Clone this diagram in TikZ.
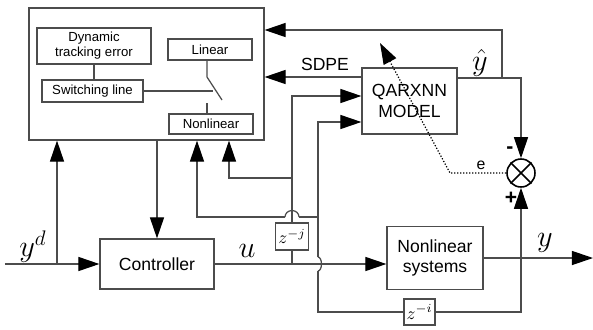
\documentclass[tikz,border=0pt]{standalone}
\usepackage{fontspec}
\setmainfont{Liberation Sans}
\usepackage{amsmath}
\usetikzlibrary{arrows.meta}

\tikzset{
  blk/.style={draw=black!70, line width=0.7pt, align=center, inner sep=1pt,
    font=\fontsize{10}{11.5}\selectfont},
  sblk/.style={blk, font=\fontsize{7.5}{8.5}\selectfont},
  sig/.style={draw=black!70, line width=0.7pt},
  arr/.style={sig, -{Triangle[length=12pt,width=8pt,color=black]}},
  lbl/.style={font=\LARGE},
}

\begin{document}
\begin{tikzpicture}[x=0.02cm,y=-0.02cm]
\useasboundingbox (0,0) rectangle (593,329);

% --- Bloque de conmutacion ---
\node[blk, minimum width=4.70cm, minimum height=2.64cm] (smc) at (146.5,74) {};
\node[sblk, minimum width=2.28cm, minimum height=0.72cm] (dte) at (94,46) {Dynamic\\tracking error};
\node[sblk, minimum width=2.02cm, minimum height=0.44cm] (swl) at (92.5,91) {Switching line};
\node[sblk, minimum width=1.68cm, minimum height=0.42cm] (lin) at (210,49.5) {Linear};
\node[sblk, minimum width=1.68cm, minimum height=0.40cm] (nlin) at (211,124) {Nonlinear};

% interruptor
\coordinate (sw1) at (207,77);
\coordinate (sw2) at (222,100);
\coordinate (sw3) at (207,103);
\draw[sig] (dte.south) -- (dte.south |- swl.north);
\draw[sig] (swl.east) -- (213,91);
\draw[sig] (lin.south -| sw1) -- (sw1) -- (sw2);
\draw[sig] (nlin.north -| sw3) -- (sw3);

% --- Modelo QARXNN y sumador ---
\node[blk, minimum width=1.90cm, minimum height=1.32cm] (qarx) at (409.5,101) {QARXNN\\MODEL};
\node[draw=black, line width=0.9pt, circle, minimum size=0.56cm, inner sep=0pt] (sum) at (521,173) {};
\draw[black, line width=0.9pt] (sum.north west) -- (sum.south east) (sum.north east) -- (sum.south west);

% --- Controlador y planta ---
\node[blk, minimum width=2.28cm, minimum height=1.0cm] (ctrl) at (157,264) {Controller};
\node[blk, minimum width=1.92cm, minimum height=1.26cm] (nls) at (435,258) {Nonlinear\\systems};
\node[blk, minimum width=0.66cm, minimum height=0.54cm, inner sep=0pt] (zj) at (292,236.5) {$z^{-j}$};
\node[blk, minimum width=0.62cm, minimum height=0.52cm, inner sep=0pt] (zi) at (419.5,312) {$z^{-i}$};

% referencia y^d
\coordinate (yin) at (5,264);
\coordinate (jyd) at (57,264);
\draw[arr] (yin) -- (ctrl.west);
\draw[arr] (jyd) -- (jyd |- smc.south);
\node[lbl] (yd) at (33,247) {$y^d$};
\draw[arr] (ctrl.north |- smc.south) -- (ctrl.north);

% entrada u y retardo z^{-j}
\coordinate (ju) at (292,264);
\coordinate (ja) at (292,96);
\coordinate (jb) at (292,178);
\draw[arr] (ctrl.east) -- (ctrl.east -| nls.west);
\node[lbl] (u) at (247,251) {$u$};
\draw[sig] (ju) -- (zj.south);
\draw[arr] (zj.north) -- (ja) -- (ja -| qarx.west);
\draw[arr] (jb) -| ([xshift=1.65cm]smc.south);

% salida y y retardo z^{-i}
\coordinate (yout) at (593,258);
\coordinate (jy) at (521,258);
\coordinate (jc) at (318,312);
\coordinate (jd) at (318,122);
\coordinate (je) at (318,217);
\coordinate (hv1) at (318,271);
\coordinate (hv2) at (318,257);
\coordinate (hh1) at (299,217);
\coordinate (hh2) at (285,217);
\draw[arr] (nls.east) -- (yout);
\node[lbl] (y) at (545,243) {$y$};
\draw[arr] (jy) -- (sum.south);
\draw[sig] (jy) |- (zi.east);
\draw[sig] (zi.west) -- (jc) -- (hv1);
\draw[sig] (hv1) arc[start angle=-90,end angle=90,x radius=0.07cm,y radius=0.14cm];
\draw[arr] (hv2) -- (jd) -- (jd -| qarx.west);
\draw[sig] (je) -- (hh1);
\draw[sig] (hh1) arc[start angle=0,end angle=180,x radius=0.14cm,y radius=0.13cm];
\draw[arr] (hh2) -| ([xshift=1.01cm]smc.south);

% salida del modelo y SDPE
\coordinate (jh) at (502,78);
\coordinate (sdpe) at ([yshift=0.48cm]qarx.west);
\draw[arr] ([yshift=0.46cm]qarx.east) -| (sum.north);
\draw[arr] (jh) |- ([yshift=0.88cm]smc.east);
\node[lbl] (yhat) at (480,63) {$\hat{y}$};
\draw[arr] (sdpe) -- (sdpe -| smc.east);
\node[font=\fontsize{10}{11.5}\selectfont] (sdpelbl) at (325,64) {SDPE};

% error e (punteado)
\coordinate (ea) at (450,173);
\coordinate (eb) at (380,43);
\draw[arr, draw=black, densely dotted] (sum.west) -- (ea) -- (eb);
\node[font=\fontsize{9}{10}\selectfont] (elbl) at (481,165) {e};
\node[font=\large\bfseries] (minus) at (510,150) {-};
\node[font=\large\bfseries] (plus) at (511,198) {+};

\end{tikzpicture}
\end{document}
